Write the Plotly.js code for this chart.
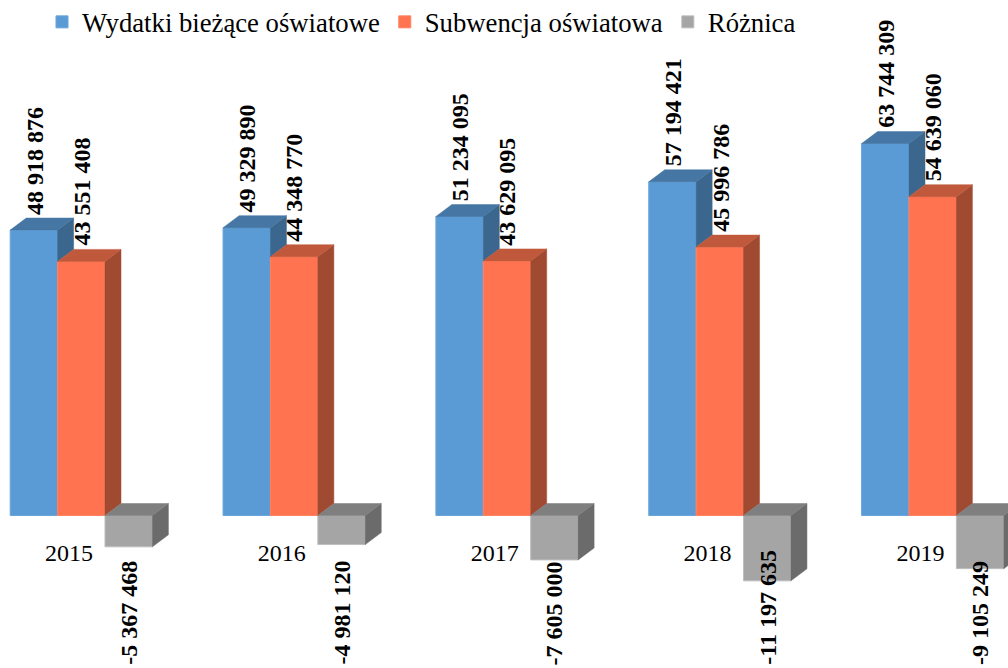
<!DOCTYPE html>
<html>
<head>
<meta charset="utf-8">
<script src="https://cdn.plot.ly/plotly-3.0.1.min.js"></script>
<style>html,body{margin:0;padding:0;background:#fff}</style>
</head>
<body>
<div id="chart" style="width:1008px;height:668px"></div>
<script>
var years = ['2015', '2016', '2017', '2018', '2019'];
var wydatki = [48918876, 49329890, 51234095, 57194421, 63744309];
var subwencja = [43551408, 44348770, 43629095, 45996786, 54639060];
var roznica = [-5367468, -4981120, -7605000, -11197635, -9105249];
var seriesNames = ['Wydatki bieżące oświatowe', 'Subwencja oświatowa', 'Różnica'];

var W = 1008, H = 668;
var stepPx = 212.85, barPx = 47.4, firstCentrePx = 81.3;
var zeroPx = 515.5, pxPerUnit = 5.835e-6;
var depthX = 16 / stepPx, depthY = 12 / pxPerUnit, barW = barPx / stepPx;

var xRange = [-firstCentrePx / stepPx, (W - firstCentrePx) / stepPx];
var yRange = [(zeroPx - H) / pxPerUnit, zeroPx / pxPerUnit];
var idx = years.map(function (_, i) { return i; });

function fmt(v) { return String(v).replace(/\B(?=(\d{3})+(?!\d))/g, ' '); }

function polyTrace(polys, color) {
  var xs = [], ys = [];
  polys.forEach(function (p) {
    p.forEach(function (q) { xs.push(q[0]); ys.push(q[1]); });
    xs.push(p[0][0]); ys.push(p[0][1]);
    xs.push(null); ys.push(null);
  });
  return { type: 'scatter', mode: 'lines', x: xs, y: ys, fill: 'toself', fillcolor: color,
    line: { width: 0.5, color: color }, hoverinfo: 'skip', showlegend: false };
}

function bar(name, vals, color, edge) {
  return { type: 'bar', name: name, x: idx, y: vals, marker: { color: color, line: { color: edge, width: 1 } },
    hovertemplate: '%{y}<extra>' + name + '</extra>' };
}

var blueSide = [], blueTop = [], orangeSide = [], orangeTop = [], greySide = [], greyTop = [];
idx.forEach(function (i) {
  var a = i - barW / 2, b = i + barW / 2, c = i + 1.5 * barW, z = i - 1.5 * barW;
  var v1 = wydatki[i], v2 = subwencja[i], v3 = roznica[i];
  blueTop.push([[z, v1], [a, v1], [a + depthX, v1 + depthY], [z + depthX, v1 + depthY]]);
  blueSide.push([[a, v1], [a + depthX, v1 + depthY], [a + depthX, v2 + depthY], [a, v2]]);
  orangeTop.push([[a, v2], [b, v2], [b + depthX, v2 + depthY], [a + depthX, v2 + depthY]]);
  orangeSide.push([[b, v2], [b + depthX, v2 + depthY], [b + depthX, depthY], [b, 0]]);
  greyTop.push([[b, 0], [c, 0], [c + depthX, depthY], [b + depthX, depthY]]);
  greySide.push([[c, 0], [c + depthX, depthY], [c + depthX, v3 + depthY], [c, v3]]);
});

var traces = [
  bar(seriesNames[0], wydatki, '#5B9BD5', '#6BA5DA'),
  bar(seriesNames[1], subwencja, '#FF7350', '#FF8363'),
  bar(seriesNames[2], roznica, '#A5A5A5', '#BDBDBD'),
  polyTrace(blueSide, '#3B668E'),
  polyTrace(blueTop, '#4676A3'),
  polyTrace(orangeSide, '#A04A32'),
  polyTrace(orangeTop, '#C0583B'),
  polyTrace(greySide, '#6B6B6B'),
  polyTrace(greyTop, '#7F7F7F')
];

var labelFont = { family: 'Liberation Serif', size: 24, color: '#000', weight: 700 };
var annotations = [];
idx.forEach(function (i) {
  annotations.push({ x: i - barW, y: wydatki[i], text: '<b>' + fmt(wydatki[i]) + '</b>', textangle: -90, showarrow: false,
    xanchor: 'center', yanchor: 'bottom', xshift: 0.5, yshift: 14.5, font: labelFont, borderpad: 0 });
  annotations.push({ x: i, y: subwencja[i], text: '<b>' + fmt(subwencja[i]) + '</b>', textangle: -90, showarrow: false,
    xanchor: 'center', yanchor: 'bottom', xshift: 0.3, yshift: 14.5, font: labelFont, borderpad: 0 });
  annotations.push({ x: i + barW, yref: 'paper', y: 0, text: '<b>' + fmt(roznica[i]) + '</b>', textangle: -90, showarrow: false,
    xanchor: 'center', yanchor: 'bottom', xshift: 0, yshift: 2, font: labelFont, borderpad: 0 });
});

var layout = {
  width: W, height: H, autosize: false,
  margin: { l: 0, r: 0, t: 0, b: 0, pad: 0, autoexpand: false },
  paper_bgcolor: '#fff', plot_bgcolor: '#fff',
  barmode: 'group', bargap: 1 - 3 * barW, bargroupgap: 0,
  font: { family: 'Liberation Serif', color: '#000' },
  xaxis: { type: 'linear', range: xRange, anchor: 'free', position: (H - zeroPx) / H, side: 'bottom',
    tickmode: 'array', tickvals: idx.map(function (i) { return i - 12.3 / stepPx; }), ticktext: years,
    ticks: 'outside', ticklen: 16, tickwidth: 1, tickcolor: 'rgba(0,0,0,0)',
    showgrid: false, zeroline: false, showline: false,
    tickfont: { family: 'Liberation Serif', size: 24, color: '#000' } },
  yaxis: { range: yRange, visible: false, showgrid: false, zeroline: false },
  legend: { orientation: 'h', x: 42 / W, xanchor: 'left', y: 1 + 2 / H, yanchor: 'top',
    font: { family: 'Liberation Serif', size: 26.7, color: '#000' }, bgcolor: 'rgba(0,0,0,0)', borderwidth: 0 },
  annotations: annotations,
  showlegend: true
};

Plotly.newPlot('chart', traces, layout, { displayModeBar: false, responsive: false });
</script>
</body>
</html>
